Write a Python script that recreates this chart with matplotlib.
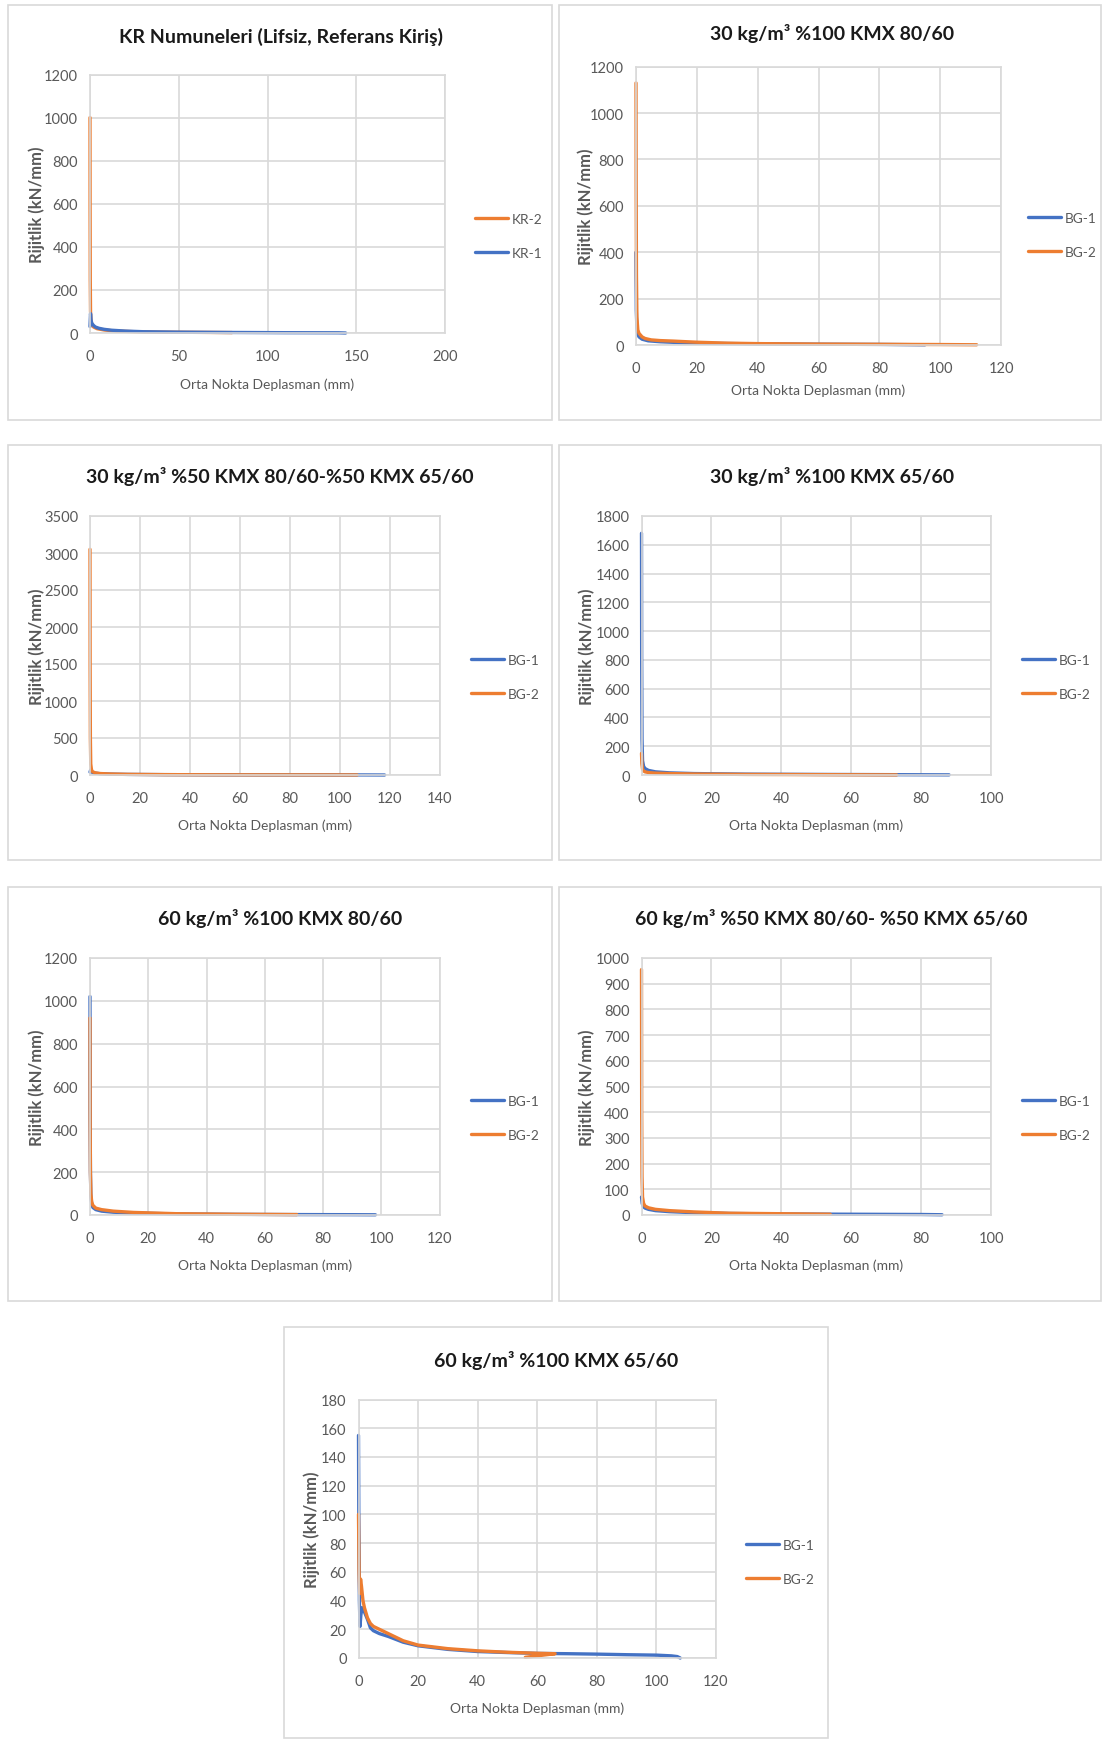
import matplotlib
matplotlib.use("Agg")
import matplotlib.pyplot as plt
from matplotlib.patches import Rectangle

W, H = 1102, 1740
BLUE = "#4472C4"
ORANGE = "#ED7D31"
GRID = "#D9D9D9"
TXT = "#595959"
FONT = ["Lato", "DejaVu Sans"]
plt.rcParams["font.family"] = FONT

XLABEL = "Orta Nokta Deplasman (mm)"
YLABEL = "Rijitlik (kN/mm)"

# ---- data: stiffness (kN/mm) vs mid-span displacement (mm) ----
titles = [
    "KR Numuneleri (Lifsiz, Referans Kiriş)",
    "30 kg/m³ %100 KMX 80/60",
    "30 kg/m³ %50 KMX 80/60-%50 KMX 65/60",
    "30 kg/m³ %100 KMX 65/60",
    "60 kg/m³ %100 KMX 80/60",
    "60 kg/m³ %50 KMX 80/60- %50 KMX 65/60",
    "60 kg/m³ %100 KMX 65/60",
]

# KR beams
kr1_x = [0, 0.3, 0.6, 1.0, 2, 3, 5, 8, 12, 20, 30, 50, 80, 110, 140, 144]
kr1_y = [30, 90, 60, 45, 35, 28, 22, 17, 13, 9, 6, 4, 2.5, 1.5, 1, 0]
kr2_x = [0, 0.05, 0.15, 0.3, 0.6, 1, 2, 4, 8, 15, 25, 40, 60, 80]
kr2_y = [1000, 600, 250, 100, 60, 40, 28, 20, 14, 9, 6, 4, 3, 2]

# 30 kg/m3 100% KMX 80/60
a_bg1_x = [0, 0.1, 0.3, 0.6, 1, 2, 4, 8, 15, 25, 40, 60, 80, 95]
a_bg1_y = [400, 150, 70, 45, 35, 25, 18, 14, 10, 7, 5, 3.5, 2.5, 1]
a_bg2_x = [0, 0.05, 0.15, 0.3, 0.6, 1, 2, 3, 5, 8, 12, 20, 30, 40, 60, 80, 100, 112]
a_bg2_y = [1130, 700, 300, 120, 65, 50, 35, 28, 22, 19, 17, 12, 8, 6, 4, 3, 2, 1]

# 30 kg/m3 50% KMX 80/60 - 50% KMX 65/60
b_bg1_x = [0, 0.3, 0.6, 1, 2, 4, 8, 15, 30, 50, 70, 90, 110, 118]
b_bg1_y = [40, 70, 45, 35, 25, 18, 12, 8, 5, 3, 2, 1.5, 1, 0]
b_bg2_x = [0, 0.05, 0.15, 0.3, 0.6, 1, 2, 4, 8, 15, 30, 50, 70, 90, 107]
b_bg2_y = [3050, 1500, 500, 150, 70, 45, 30, 20, 14, 9, 5, 3, 2, 1.5, 1]

# 30 kg/m3 100% KMX 65/60
c_bg1_x = [0, 0.05, 0.15, 0.3, 0.6, 1, 2, 4, 8, 15, 30, 50, 70, 88]
c_bg1_y = [1680, 800, 250, 100, 60, 45, 32, 22, 15, 10, 6, 4, 2.5, 1]
c_bg2_x = [0, 0.1, 0.3, 0.6, 1, 2, 4, 8, 15, 30, 50, 73]
c_bg2_y = [150, 80, 40, 28, 22, 17, 13, 10, 7, 4, 2.5, 1]

# 60 kg/m3 100% KMX 80/60
d_bg1_x = [0, 0.05, 0.15, 0.3, 0.6, 1, 2, 4, 8, 15, 30, 50, 70, 90, 98]
d_bg1_y = [1020, 500, 200, 90, 50, 35, 25, 18, 13, 9, 5, 3, 2, 1.5, 1]
d_bg2_x = [0, 0.05, 0.15, 0.3, 0.6, 1, 2, 4, 8, 15, 30, 50, 71]
d_bg2_y = [920, 450, 200, 100, 60, 45, 32, 25, 18, 12, 6, 3.5, 2]

# 60 kg/m3 50% KMX 80/60 - 50% KMX 65/60
e_bg1_x = [0, 0.2, 0.5, 1, 2, 4, 8, 15, 25, 40, 60, 80, 86]
e_bg1_y = [70, 45, 33, 27, 22, 17, 13, 9, 6, 4, 3, 2, 1]
e_bg2_x = [0, 0.05, 0.15, 0.3, 0.6, 1, 2, 4, 8, 15, 25, 40, 54]
e_bg2_y = [955, 400, 150, 70, 45, 35, 28, 22, 17, 12, 7, 5, 3]

# 60 kg/m3 100% KMX 65/60
f_bg1_x = [0, 0.1, 0.3, 0.5, 0.8, 1.2, 2, 3, 4, 5, 7, 10, 15, 20, 30, 40, 50,
           60, 70, 80, 90, 100, 105, 107, 108]
f_bg1_y = [155, 100, 40, 22, 30, 35, 32, 27, 21, 19, 17, 15, 11, 8.5, 6, 4.5,
           3.8, 3.2, 3, 2.7, 2.3, 2, 1.5, 1, 0]
f_bg2_x = [0, 0.2, 0.4, 0.7, 1, 1.5, 2, 3, 4, 5, 7, 9, 10, 15, 20, 30, 40, 50,
           60, 66, 62, 58, 56]
f_bg2_y = [100, 60, 45, 55, 50, 40, 35, 28, 24, 22, 20, 18, 17, 12, 9, 6.5, 5,
           4, 3.3, 3, 2, 1, 0.5]

# axis limits / steps
xlims = [(200, 50), (120, 20), (140, 20), (100, 20), (120, 20), (100, 20), (120, 20)]
ylims = [(1200, 200), (1200, 200), (3500, 500), (1800, 200), (1200, 200), (1000, 100), (180, 20)]


def fx(px):
    return px / W


def fy(py):
    return 1 - py / H


fig = plt.figure(figsize=(W / 100, H / 100), dpi=100)
fig.patch.set_facecolor("white")

# outer chart frames (pixel boxes)
frames = [(8, 6, 552, 421), (559, 6, 1101, 421),
          (8, 446, 552, 861), (559, 446, 1101, 861),
          (8, 888, 552, 1302), (559, 888, 1101, 1302),
          (284, 1328, 828, 1739)]
for (x0, y0, x1, y1) in frames:
    fig.patches.append(Rectangle((fx(x0), fy(y1)), fx(x1) - fx(x0), fy(y0) - fy(y1),
                                 transform=fig.transFigure, facecolor="white",
                                 edgecolor=GRID, lw=1.2, zorder=-5))

# plot areas (pixel boxes)
plots = [(90, 75.5, 445, 334), (636, 67.7, 1001, 346),
         (90, 517, 439.5, 776), (641.5, 517, 991, 776),
         (90, 959, 439.5, 1216), (641.5, 959, 991, 1216),
         (358.5, 1400.5, 716, 1659)]
title_pos = [(281, 36.6), (832, 33.3), (280, 477), (832, 477), (280, 919), (831, 919), (556, 1360.6)]
xlab_y = [385, 390.6, 825.7, 825.7, 1266, 1266, 1709]
ylab_x = [36.6, 586, 36.6, 587, 36.6, 587, 312]
legend_pos = [(476, 237), (1029, 236), (472, 678), (1023, 678), (472, 1119), (1023, 1119), (747, 1563)]

series = [
    [("KR-2", kr2_x, kr2_y, ORANGE), ("KR-1", kr1_x, kr1_y, BLUE)],
    [("BG-1", a_bg1_x, a_bg1_y, BLUE), ("BG-2", a_bg2_x, a_bg2_y, ORANGE)],
    [("BG-1", b_bg1_x, b_bg1_y, BLUE), ("BG-2", b_bg2_x, b_bg2_y, ORANGE)],
    [("BG-1", c_bg1_x, c_bg1_y, BLUE), ("BG-2", c_bg2_x, c_bg2_y, ORANGE)],
    [("BG-1", d_bg1_x, d_bg1_y, BLUE), ("BG-2", d_bg2_x, d_bg2_y, ORANGE)],
    [("BG-1", e_bg1_x, e_bg1_y, BLUE), ("BG-2", e_bg2_x, e_bg2_y, ORANGE)],
    [("BG-1", f_bg1_x, f_bg1_y, BLUE), ("BG-2", f_bg2_x, f_bg2_y, ORANGE)],
]

for i, (x0, y0, x1, y1) in enumerate(plots):
    ax = fig.add_axes([fx(x0), fy(y1), fx(x1) - fx(x0), fy(y0) - fy(y1)])
    ax.set_facecolor("white")
    xmax, xstep = xlims[i]
    ymax, ystep = ylims[i]
    ax.set_xlim(0, xmax)
    ax.set_ylim(0, ymax)
    ax.set_xticks(range(0, xmax + 1, xstep))
    ax.set_yticks(range(0, ymax + 1, ystep))
    ax.grid(True, color=GRID, lw=1.2)
    ax.set_axisbelow(True)
    for s in ax.spines.values():
        s.set_color(GRID)
        s.set_linewidth(1.2)
    ax.tick_params(length=0, labelsize=10.5, labelcolor=TXT)
    ax.tick_params(axis="x", pad=11.5)
    ax.tick_params(axis="y", pad=8.5)

    handles = {}
    # KR panel: KR-1 drawn last (on top); BG panels: BG-2 drawn last
    for name, xs, ys, col in series[i]:
        h, = ax.plot(xs, ys, color=col, lw=2.4, solid_joinstyle="round",
                     solid_capstyle="round", clip_on=False)
        handles[name] = h
    order = ["KR-2", "KR-1"] if i == 0 else ["BG-1", "BG-2"]
    lx, ly = legend_pos[i]
    fig.legend([handles[n] for n in order], order, loc="center left",
               bbox_to_anchor=(fx(lx) - 0.012, fy(ly)), frameon=False,
               handlelength=2.4, handletextpad=0.3, labelspacing=1.6,
               prop={"family": FONT, "size": 9.8}, labelcolor=TXT)

    tx, ty = title_pos[i]
    fig.text(fx(tx), fy(ty), titles[i], ha="center", va="center",
             fontsize=14, fontweight="bold", color="#1a1a1a")
    fig.text(fx((x0 + x1) / 2), fy(xlab_y[i]), XLABEL, ha="center", va="center",
             fontsize=10, color=TXT)
    fig.text(fx(ylab_x[i]), fy((y0 + y1) / 2), YLABEL, ha="center", va="center",
             rotation=90, fontsize=12, color=TXT, fontweight="bold")

fig.savefig("out.png", dpi=100, facecolor="white")
